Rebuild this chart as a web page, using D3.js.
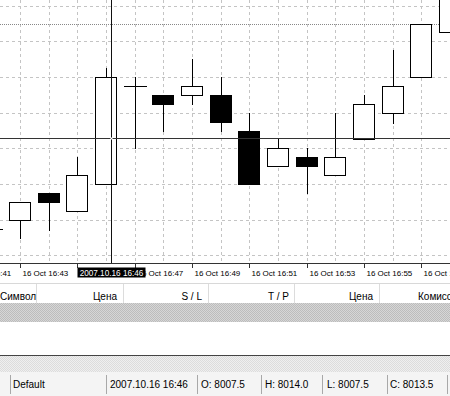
<!DOCTYPE html>
<html>
<head>
<meta charset="utf-8">
<script src="https://cdn.jsdelivr.net/npm/d3@7"></script>
<style>
  body { margin: 0; background: #fff; }
  svg { display: block; font-family: "Liberation Sans", Arial, sans-serif; }
</style>
</head>
<body>
<div id="chart"></div>
<script>
// one-minute bars, 2007.10.16
const times  = ["16:42","16:43","16:44","16:45","16:46","16:47","16:48","16:49","16:50","16:51","16:52","16:53","16:54","16:55","16:56","16:57","16:58"];
const opens  = [8005.0, 8005.5, 8007.0, 8006.0, 8007.5, 8013.0, 8012.5, 8012.5, 8012.5, 8010.5, 8008.5, 8009.0, 8008.0, 8010.0, 8011.5, 8013.5, 8016.0];
const highs  = [8005.5, 8006.5, 8007.0, 8009.0, 8014.0, 8013.5, 8012.5, 8014.5, 8013.5, 8011.5, 8010.1, 8009.5, 8011.5, 8012.5, 8015.0, 8016.5, 8019.0];
const lows   = [8004.5, 8004.5, 8004.9, 8006.0, 8007.5, 8009.5, 8010.5, 8012.0, 8010.5, 8007.5, 8008.5, 8007.0, 8008.0, 8010.0, 8010.9, 8013.5, 8016.0];
const closes = [8005.0, 8006.5, 8006.5, 8008.0, 8013.5, 8013.0, 8012.0, 8013.0, 8011.0, 8007.5, 8009.5, 8008.5, 8009.0, 8012.0, 8013.0, 8016.5, 8018.5];

const labelTimes = ["16:41","16:43","16:45","16:47","16:49","16:51","16:53","16:55","16:57"];
const gridPrices = [8003.5, 8005.5, 8007.5, 8009.5, 8011.5, 8013.5, 8015.5, 8017.5];
const levelPrice = 8016.5;

const crossTime = "16:46:10";
const crossPrice = 8010.1;
const crossBar = "16:46";

const columns = ["Символ", "Цена", "S / L", "T / P", "Цена", "Комиссия"];
const profileName = "Default";

const W = 450, H = 396;
const chartBottom = 263;

const parse = s => d3.timeParse("%Y.%m.%d %H:%M:%S")("2007.10.16 " + (s.length === 5 ? s + ":00" : s));
const bars = times.map((t, i) => ({ t: parse(t), o: opens[i], h: highs[i], l: lows[i], c: closes[i] }));

const svg = d3.select("#chart").append("svg")
    .attr("width", W)
    .attr("height", H);

svg.append("rect").attr("width", W).attr("height", H).attr("fill", "#fff");

const x = d3.scaleTime()
    .domain([parse("16:43"), parse("16:58")])
    .range([20, 450]);

const y = d3.scaleLinear()
    .domain([8007.5, 8013.5])
    .range([184, 77]);

const px = v => Math.round(v) + 0.5;

// dotted fills for the terminal panel
const defs = svg.append("defs");
function dots(id, bg, fg) {
    const p = defs.append("pattern").attr("id", id)
        .attr("width", 2).attr("height", 2).attr("patternUnits", "userSpaceOnUse");
    p.append("rect").attr("width", 2).attr("height", 2).attr("fill", bg);
    p.append("rect").attr("width", 1).attr("height", 1).attr("fill", fg);
    p.append("rect").attr("x", 1).attr("y", 1).attr("width", 1).attr("height", 1).attr("fill", fg);
}
dots("darkDots", "#d6d6d6", "#bcbcbc");
dots("lightDots", "#efefef", "#dcdcdc");

const plot = svg.append("g");
plot.append("clipPath").attr("id", "clip")
    .append("rect").attr("width", W).attr("height", chartBottom);
const g = plot.append("g").attr("clip-path", "url(#clip)");

// grid
g.selectAll(".hgrid")
    .data(gridPrices)
    .enter().append("line")
    .attr("x1", 0).attr("x2", W)
    .attr("y1", d => px(y(d))).attr("y2", d => px(y(d)))
    .attr("stroke", "#c4c4c4")
    .attr("stroke-dasharray", "3,3");

g.selectAll(".vgrid")
    .data(bars)
    .enter().append("line")
    .attr("x1", d => px(x(d.t))).attr("x2", d => px(x(d.t)))
    .attr("y1", 0).attr("y2", chartBottom)
    .attr("stroke", "#c4c4c4")
    .attr("stroke-dasharray", "3,3");

g.append("line")
    .attr("x1", 0).attr("x2", W)
    .attr("y1", px(y(levelPrice))).attr("y2", px(y(levelPrice)))
    .attr("stroke", "#888")
    .attr("stroke-dasharray", "1,1");

// candles
const candle = g.selectAll(".candle")
    .data(bars)
    .enter().append("g")
    .attr("class", "candle");

candle.append("line")
    .attr("x1", d => px(x(d.t))).attr("x2", d => px(x(d.t)))
    .attr("y1", d => Math.round(y(d.h))).attr("y2", d => Math.round(y(d.l)) + 1)
    .attr("stroke", "#000");

candle.filter(d => d.o !== d.c).append("rect")
    .attr("x", d => Math.round(x(d.t)) - 10.5)
    .attr("width", 21)
    .attr("y", d => px(y(Math.max(d.o, d.c))))
    .attr("height", d => Math.round(y(Math.min(d.o, d.c))) - Math.round(y(Math.max(d.o, d.c))))
    .attr("fill", d => d.c > d.o ? "#fff" : "#000")
    .attr("stroke", "#000");

candle.filter(d => d.o === d.c).append("line")
    .attr("x1", d => Math.round(x(d.t)) - 11).attr("x2", d => Math.round(x(d.t)) + 12)
    .attr("y1", d => px(y(d.o))).attr("y2", d => px(y(d.o)))
    .attr("stroke", "#000");

// crosshair
const cx = px(x(parse(crossTime)));
const cy = px(y(crossPrice));
g.append("line").attr("x1", 0).attr("x2", W).attr("y1", cy).attr("y2", cy).attr("stroke", "#333");
g.append("line").attr("x1", cx).attr("x2", cx).attr("y1", 0).attr("y2", chartBottom).attr("stroke", "#111");
g.append("rect").attr("x", cx - 1).attr("y", cy - 1).attr("width", 2).attr("height", 2).attr("fill", "#fff");

// time axis
svg.append("line")
    .attr("x1", 0).attr("x2", W)
    .attr("y1", chartBottom + 0.5).attr("y2", chartBottom + 0.5)
    .attr("stroke", "#333");

const boxW = 68;
const xAxis = d3.axisBottom(x)
    .tickValues(labelTimes.map(parse))
    .tickFormat(d3.timeFormat("%d %b %H:%M"))
    .tickSize(5)
    .tickSizeOuter(0);

const ax = svg.append("g")
    .attr("transform", `translate(0,${chartBottom})`)
    .call(xAxis);
ax.select(".domain").remove();
ax.selectAll(".tick").attr("transform", d => `translate(${px(x(d))},0)`);
ax.selectAll(".tick line").attr("stroke", "#333");
ax.selectAll(".tick text")
    .attr("text-anchor", "start")
    .attr("x", 2)
    .attr("y", 12.5)
    .attr("dy", null)
    .attr("fill", "#000")
    .style("font-family", "'Liberation Sans', Arial, sans-serif")
    .style("font-size", "8px");
// the label that sits fully under the crosshair time box is not drawn
ax.selectAll(".tick text")
    .filter(d => x(d) < cx && x(d) > cx - boxW / 2 - 3)
    .remove();

// crosshair time box
const fullFmt = d3.timeFormat("%Y.%m.%d %H:%M");
svg.append("rect")
    .attr("x", cx - boxW / 2).attr("y", chartBottom + 4.5)
    .attr("width", boxW).attr("height", 10)
    .attr("fill", "#000");
svg.append("text")
    .attr("x", cx).attr("y", chartBottom + 12.5)
    .attr("text-anchor", "middle")
    .attr("fill", "#fff")
    .style("font-size", "8.2px")
    .text(fullFmt(parse(crossTime)));

// terminal panel
svg.append("line").attr("x1", 0).attr("x2", W).attr("y1", 283.5).attr("y2", 283.5).attr("stroke", "#d8d8d8");
const colX = [0, 117, 202, 289, 373, 418];
const colSep = [36, 123, 208, 294, 379];
svg.selectAll(".colsep")
    .data(colSep)
    .enter().append("line")
    .attr("x1", d => d + 0.5).attr("x2", d => d + 0.5)
    .attr("y1", 284).attr("y2", 303)
    .attr("stroke", "#dcdcdc");
svg.selectAll(".col")
    .data(columns)
    .enter().append("text")
    .attr("x", (d, i) => colX[i])
    .attr("y", 299.5)
    .attr("text-anchor", (d, i) => (i === 0 || i === columns.length - 1) ? "start" : "end")
    .style("font-size", "10px")
    .text(d => d);

svg.append("rect").attr("x", 0).attr("y", 303).attr("width", W).attr("height", 19).attr("fill", "url(#darkDots)");
svg.append("line").attr("x1", 0).attr("x2", W).attr("y1", 355.5).attr("y2", 355.5).attr("stroke", "#444");
svg.append("rect").attr("x", 0).attr("y", 356).attr("width", W).attr("height", 16).attr("fill", "url(#lightDots)");
svg.append("rect").attr("x", 0).attr("y", 372).attr("width", W).attr("height", 24).attr("fill", "#f4f4f4");

// status bar
const cb = bars[times.indexOf(crossBar)];
const f1 = d3.format(".1f");
const status = [profileName, fullFmt(cb.t), "O: " + f1(cb.o), "H: " + f1(cb.h), "L: " + f1(cb.l), "C: " + f1(cb.c)];
const statusX = [13, 110, 201, 265, 327, 390];
const statusSep = [10, 106, 197, 261, 322, 387, 447];

svg.selectAll(".ssep")
    .data(statusSep)
    .enter().append("line")
    .attr("x1", d => d + 0.5).attr("x2", d => d + 0.5)
    .attr("y1", 375).attr("y2", 394)
    .attr("stroke", "#a8a8a8");
svg.selectAll(".stat")
    .data(status)
    .enter().append("text")
    .attr("x", (d, i) => statusX[i])
    .attr("y", 388)
    .style("font-size", "10px")
    .text(d => d);
</script>
</body>
</html>
